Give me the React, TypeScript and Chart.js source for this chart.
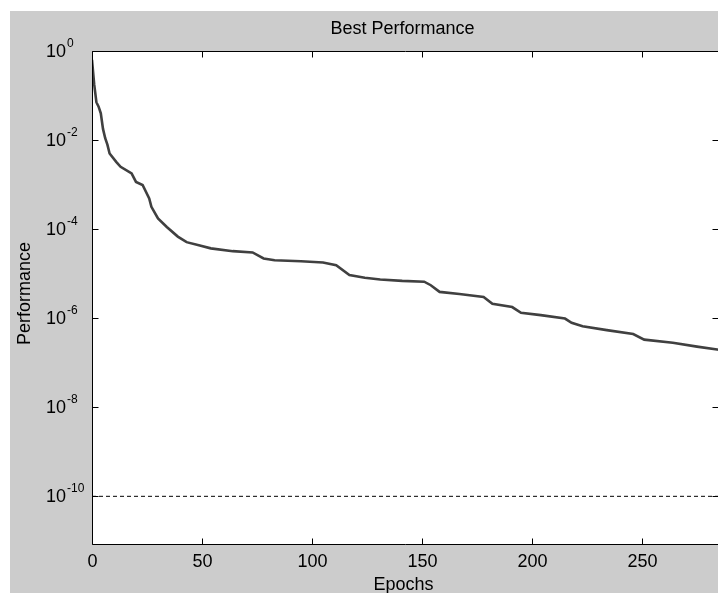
import React, { useEffect, useRef } from "react";
import { Chart, registerables } from "chart.js";

Chart.register(...registerables);

// ---- data ----
const epochs = [0, 1, 2, 3, 4, 5, 6, 7, 8, 11, 13, 18, 20, 23, 26, 27, 30, 34, 39, 43, 49, 54, 64, 73, 78, 83, 95, 105, 111, 117, 124, 131, 141, 151, 154, 158, 167, 178, 182, 191, 195, 204, 215, 218, 223, 234, 246, 251, 264, 275, 285];
const performance = [0.63, 0.178, 0.0708, 0.0562, 0.0398, 0.0178, 0.011, 0.0079, 0.005, 0.00324, 0.00251, 0.00178, 0.00115, 0.00098, 4.9e-4, 3.16e-4, 1.74e-4, 1.12e-4, 6.8e-5, 5.1e-5, 4.3e-5, 3.7e-5, 3.2e-5, 3.0e-5, 2.2e-5, 2.0e-5, 1.9e-5, 1.78e-5, 1.55e-5, 9.3e-6, 8.1e-6, 7.4e-6, 6.9e-6, 6.6e-6, 5.5e-6, 3.9e-6, 3.5e-6, 3.0e-6, 2.1e-6, 1.78e-6, 1.32e-6, 1.17e-6, 9.8e-7, 7.9e-7, 6.6e-7, 5.4e-7, 4.4e-7, 3.3e-7, 2.8e-7, 2.3e-7, 1.95e-7];
const goal = 1e-10;
const xRange = [0, 285];
const yRange = [8.5e-12, 1];
const xTickValues = [0, 50, 100, 150, 200, 250];
const yTickExponents = [0, -2, -4, -6, -8, -10];
const titleText = "Best Performance";
const xLabel = "Epochs";
const yLabel = "Performance";

const FONT = '"Liberation Sans", Arial, Helvetica, sans-serif';

const decor = {
  id: "decor",
  beforeDraw(chart: any) {
    const { ctx, chartArea: a } = chart;
    ctx.save();
    ctx.fillStyle = "#ffffff";
    ctx.fillRect(a.left, a.top, a.right - a.left, a.bottom - a.top);
    ctx.restore();
  },
  afterDraw(chart: any) {
    const { ctx, chartArea: a, scales } = chart;
    const x = scales.x;
    const y = scales.y;
    ctx.save();
    ctx.strokeStyle = "#000";
    ctx.lineWidth = 1;
    const L = Math.floor(a.left) + 0.5;
    const R = Math.floor(a.right) - 0.5;
    const T = Math.floor(a.top) + 0.5;
    const B = Math.floor(a.bottom) + 0.5;
    ctx.beginPath();
    ctx.moveTo(L, T); ctx.lineTo(R, T); ctx.lineTo(R, B); ctx.lineTo(L, B); ctx.closePath();
    ctx.stroke();
    const tl = 6;
    ctx.fillStyle = "#000";
    ctx.font = `18px ${FONT}`;
    ctx.textAlign = "center";
    ctx.textBaseline = "alphabetic";
    for (const v of xTickValues) {
      const px = Math.floor(x.getPixelForValue(v)) + 0.5;
      ctx.beginPath();
      ctx.moveTo(px, B); ctx.lineTo(px, B - tl);
      ctx.moveTo(px, T); ctx.lineTo(px, T + tl);
      ctx.stroke();
      ctx.fillText(String(v), px, 556);
    }
    for (const e of yTickExponents) {
      const py = Math.floor(y.getPixelForValue(Math.pow(10, e))) + 0.5;
      ctx.beginPath();
      ctx.moveTo(L, py); ctx.lineTo(L + tl, py);
      ctx.moveTo(R, py); ctx.lineTo(R - tl, py);
      ctx.stroke();
      ctx.font = `18px ${FONT}`;
      ctx.textAlign = "right";
      ctx.fillText("10", 56, py + 5);
      ctx.font = `12px ${FONT}`;
      ctx.textAlign = "left";
      ctx.fillText(String(e), 57, py - 5);
    }
    ctx.font = `18px ${FONT}`;
    ctx.textAlign = "center";
    ctx.fillText(titleText, 392.5, 23);
    ctx.fillText(xLabel, 393.5, 579);
    ctx.translate(20, 282.5);
    ctx.rotate(-Math.PI / 2);
    ctx.fillText(yLabel, 0, 0);
    ctx.restore();
  },
};

export default function App() {
  const ref = useRef<HTMLCanvasElement | null>(null);
  useEffect(() => {
    if (!ref.current) return;
    const chart = new Chart(ref.current, {
      type: "line",
      data: {
        datasets: [
          {
            data: epochs.map((e, i) => ({ x: e, y: performance[i] })),
            borderColor: "#404040",
            borderWidth: 2.6,
            pointRadius: 0,
            tension: 0,
            fill: false,
          },
          {
            data: [
              { x: xRange[0], y: goal },
              { x: xRange[1], y: goal },
            ],
            borderColor: "#000000",
            borderWidth: 1,
            borderDash: [4, 3],
            pointRadius: 0,
            fill: false,
          },
        ],
      },
      options: {
        animation: false,
        responsive: false,
        devicePixelRatio: 1,
        layout: { padding: { left: 82, top: 40, right: 3, bottom: 49 } },
        plugins: { legend: { display: false }, tooltip: { enabled: false }, title: { display: false } },
        scales: {
          x: { type: "linear", min: xRange[0], max: xRange[1], display: false },
          y: { type: "logarithmic", min: yRange[0], max: yRange[1], display: false },
        },
      },
      plugins: [decor],
    });
    return () => chart.destroy();
  }, []);
  return (
    <div style={{ position: "fixed", left: 0, top: 0, width: 718, height: 593, background: "#fff", overflow: "hidden" }}>
      <div style={{ position: "absolute", left: 10, top: 11, width: 708, height: 582, background: "#cccccc" }} />
      <canvas ref={ref} width={712} height={582} style={{ position: "absolute", left: 10, top: 11, width: 712, height: 582 }} />
    </div>
  );
}
